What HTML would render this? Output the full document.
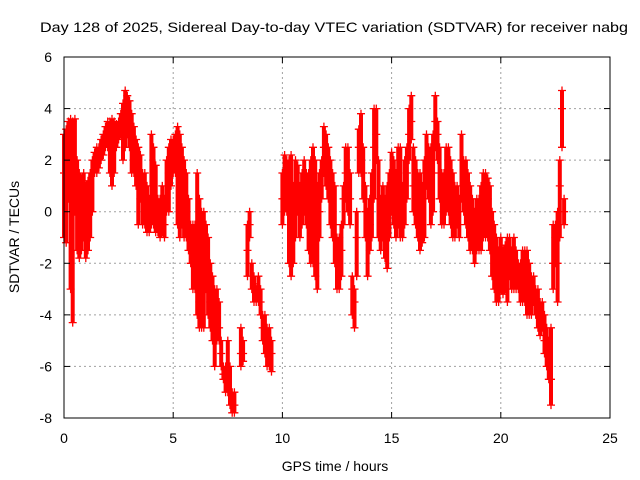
<!DOCTYPE html>
<html><head><meta charset="utf-8"><style>
html,body{margin:0;padding:0;background:#fff;}
svg{display:block;font-family:"Liberation Sans",sans-serif;}
</style></head><body>
<svg id="chart" width="640" height="480" viewBox="0 0 640 480" xmlns="http://www.w3.org/2000/svg">
<text x="334" y="32" font-size="14" text-anchor="middle" textLength="588" lengthAdjust="spacingAndGlyphs">Day 128 of 2025, Sidereal Day-to-day VTEC variation (SDTVAR) for receiver nabg</text>
<g id="grid"></g>
<g id="marks"></g>
<rect x="64" y="57" width="546" height="361" fill="none" stroke="#000" stroke-width="1"/>
<g id="ticks"></g>
<text x="335" y="471" font-size="14" text-anchor="middle">GPS time / hours</text>
<text x="0" y="0" font-size="14" text-anchor="middle" transform="translate(19,237) rotate(-90)">SDTVAR / TECUs</text>
</svg>
<script>
const xTicks=[0,5,10,15,20,25];
const yTicks=[-8,-6,-4,-2,0,2,4,6];
const hiVals=[3,3.2,3.5,3.6,3.5,3.6,2,1.5,1.3,1.5,
1,1.2,1.5,2,2.3,2.5,2.5,2.8,3,3.3,
3.5,3.5,3.6,3.5,3.4,3.5,3.8,4.2,4.7,4.5,
4.3,3.8,3.3,2.8,2.5,2.2,1.5,1.5,1,0.5,
3,2.5,1.8,0.5,0.5,1,0.5,2,2.5,2.8,
2.8,3,3.3,3,2.5,2,1.5,0.5,-0.5,-0.5,
-0.5,1.5,0.5,0,0,-0.5,-1,-2,-2.5,-3,
-3,-3.5,-5,-6,-6,-5,-6,-7,-7,null,
null,-4.5,-5,null,-0.5,0,-2,-2.5,-3,-2.5,
-3,-4,-4,-4.5,-4.5,-5,null,null,null,null,
1.5,2.2,2,2,2.2,1,2,1.8,1,1.5,
2,1.5,1.5,2,2.5,2,1,1.5,2,3.3,
3,2.5,2,1.5,1,-1,-1,-0.5,1,2.5,
2.5,1.5,-2.5,-3,0,3.2,3.8,2.5,1,0,
0.5,1.5,4,4,2,0.5,1,0.5,1,1.5,
2.3,2,1.5,2.5,2.5,1,2,2.5,4,4.5,
2.5,2,1.5,1.5,1,2,3,2.5,2.5,3,
4.5,3.5,2.5,1.5,1.5,2.5,2.5,2,1.5,1,
1,0.5,3,2,2,1.5,1,0.5,0,0.5,
0.5,1,1.5,1.5,1.3,1,0,-0.5,-1,-1.5,
-1,-1.5,-1.3,-1,-1,-1.5,-1,-1.5,-2,-2,
-1.5,-1.5,-1.5,-2,-2.5,-2.5,-3,-3,-3.5,-3.5,
-4,-4.5,-5,-4.5,-0.5,-0.5,0,2,4.7,0.5];
const midVals=[1.5,1,2.5,1.5,1,1.3,0.5,0,0.5,0.8,
0,-0.5,0,1.5,2,2,2.2,2.5,2.8,3,
3,2.5,1.5,2.5,3,3.2,3.3,3.5,3.5,3.8,
3.5,3,2.5,2,1.5,1.5,1,0.5,0,0,
1,0,-0.3,-0.3,0,0,-0.5,1,1.5,2,
2,2.5,2.5,2,1,0.5,0,-0.5,-1,-1.3,
-1.5,-2.5,-3.5,-1,-1,-1.5,-2.5,-3.5,-4,-4.5,
-4,-4.5,-5.5,-6.3,-6.5,-6.5,-7,-7.5,-7.5,null,
null,-5.5,-5.5,null,-1.5,-0.5,-2.5,-2.8,-3,-3,
-3.5,-4.5,-5,-5,-5.5,-5.5,null,null,null,null,
0.5,1,1.5,1.8,1,-1,0.5,1,0,1,
0.5,0.5,1,1,1.5,1,0,0,1.5,2.5,
2,1.5,1,0,-0.5,-2,-2,-1.5,0.5,1.5,
1.5,0.5,-3,-3.5,-1,2.5,2.3,1.5,0,-1,
-0.5,0.5,2.5,3,0.5,-0.5,0,-0.5,-1,0,
1,0.5,0.5,1.5,0.5,-0.5,1,1.5,3,3.5,
1,0.5,0,-0.5,-0.5,0.5,2,1.5,1,1.5,
3.5,3,1.5,0.5,0.5,1,1,0.5,0,-0.5,
0.5,-0.5,2,1,0.5,0,0,-0.5,-1,-0.5,
-0.5,0,0.5,0.5,0.5,0,-1,-1.5,-2,-2.5,
-2,-2.5,-2,-2,-1.5,-2,-2.5,-2.5,-2.5,-2.8,
-2.5,-2.5,-3,-3,-3.5,-3,-3.5,-4,-4,-4.2,
-5,-5.5,-6,-6.5,-2,-1,-2,1,4,0];
const loVals=[-1,-1.2,0.5,-3,-4.3,0,-1.5,-1.8,-1.5,-1,
-1.8,-1.5,-1,0,1.5,1.5,1.7,2,2.2,2.5,
2.5,1.5,1,1.5,2.5,2.8,3,2,2.5,3,
2.5,1.5,1.5,1,-0.5,0.5,-0.5,-0.5,-0.8,-0.8,
-0.5,-0.5,-0.8,-0.8,-1,-0.8,-1,0,0,1,
1.5,1.5,-0.5,-1,-0.5,-1,-1,-1.5,-2,-3,
-3,-4,-4.5,-4.5,-4.5,-3,-4,-4.5,-5,-6,
-5,-5,-6,-6.5,-7,-7,-7.5,-7.8,-7.8,null,
null,-6,-5.8,null,-2.5,-1,-3,-3.5,-3.5,-3.5,
-4,-5,-5.5,-6,-6,-6.2,null,null,null,null,
-0.5,0,0,-2,-2.5,-2,-1,0,-1,-0.5,
0,-0.5,-1.5,-2,-2,-2.5,-3,-1,0.5,1.5,
1,0.5,-0.5,-1,-2,-3,-3,-2.5,-0.5,0.5,
0,-0.5,-4,-4.5,-2.5,1.5,1.5,0.5,-1,-2.5,
-1.5,-1,0.5,2,-1,-1.5,-1,-1.8,-2.2,-1,
0,-0.5,-1,-0.5,-1,-1,-0.5,0.5,2,2.8,
0,-0.5,-1,-1.5,-1.2,-1,1,0.5,-0.5,0,
2.5,2,0.5,-0.5,-0.5,0,0,-0.5,-1,-1,
-0.5,-1,0.5,0,-0.5,-1,-1.5,-1.5,-2,-1.5,
-1.5,-1.5,-1,-1,-1,-1.5,-2.5,-3,-3.5,-3.5,
-3,-3.2,-3,-3.5,-2.5,-3,-3,-3,-3,-3.5,
-3.5,-3.5,-4,-4,-4,-3.5,-4,-4.5,-4.8,-4.5,
-5.5,-6,-6.5,-7.5,-3,-2,-3.5,-1,2.5,-0.5];
const sampleStep=0.1;

const X0=64,X1=610,Y0=418,Y1=57;
const xs=t=>X0+(t-0)/(25-0)*(X1-X0);
const ys=v=>Y0-(v-(-8))/(6-(-8))*(Y0-Y1);
const NS='http://www.w3.org/2000/svg';
const grid=document.getElementById('grid'),ticks=document.getElementById('ticks'),marks=document.getElementById('marks');
function mk(tag,attrs,parent){const e=document.createElementNS(NS,tag);for(const k in attrs)e.setAttribute(k,attrs[k]);parent.appendChild(e);return e;}
xTicks.forEach(t=>{
 const x=xs(t);
 if(t>0&&t<25){const g=mk('line',{x1:x,x2:x,y1:Y1,y2:Y0,stroke:'#a0a0a0','stroke-dasharray':'2,3'},grid);
 
 }
 mk('line',{x1:x,x2:x,y1:Y0,y2:Y0-6,stroke:'#000'},ticks);
 mk('line',{x1:x,x2:x,y1:Y1,y2:Y1+6,stroke:'#000'},ticks);
 const l=mk('text',{x:x,y:443,'font-size':14,'text-anchor':'middle'},ticks);
 l.textContent=t;
 
 
});
yTicks.forEach(v=>{
 const y=ys(v);
 if(v>-8&&v<6){const g=mk('line',{x1:X0,x2:X1,y1:y,y2:y,stroke:'#a0a0a0','stroke-dasharray':'2,3'},grid);
 
 }
 mk('line',{x1:X0,x2:X0+6,y1:y,y2:y,stroke:'#000'},ticks);
 mk('line',{x1:X1,x2:X1-6,y1:y,y2:y,stroke:'#000'},ticks);
 const l=mk('text',{x:52,y:y+5,'font-size':14,'text-anchor':'end'},ticks);
 l.textContent=v;
 
 
});
// range bands (hi-lo spread per sample)
let band='';
hiVals.forEach((h,i)=>{
 const l=loVals[i];
 if(h===null||l===null)return;
 const x=xs(i*sampleStep),y1=ys(h),y2=ys(l);
 band+=`M${(x-2).toFixed(1)} ${y1.toFixed(1)}H${(x+2).toFixed(1)}V${y2.toFixed(1)}H${(x-2).toFixed(1)}Z`;
});
const b=mk('path',{d:band,fill:'#ff0000',stroke:'none'},marks);


let d='';
[hiVals,midVals,loVals].forEach(arr=>{
 arr.forEach((v,i)=>{
  if(v===null)return;
  const x=xs(i*sampleStep),y=ys(v);
  d+=`M${(x-4).toFixed(1)} ${y.toFixed(1)}h8M${x.toFixed(1)} ${(y-4).toFixed(1)}v8`;
 });
});
const p=mk('path',{d:d,stroke:'#ff0000','stroke-width':1.3,fill:'none'},marks);


</script>
</body></html>
